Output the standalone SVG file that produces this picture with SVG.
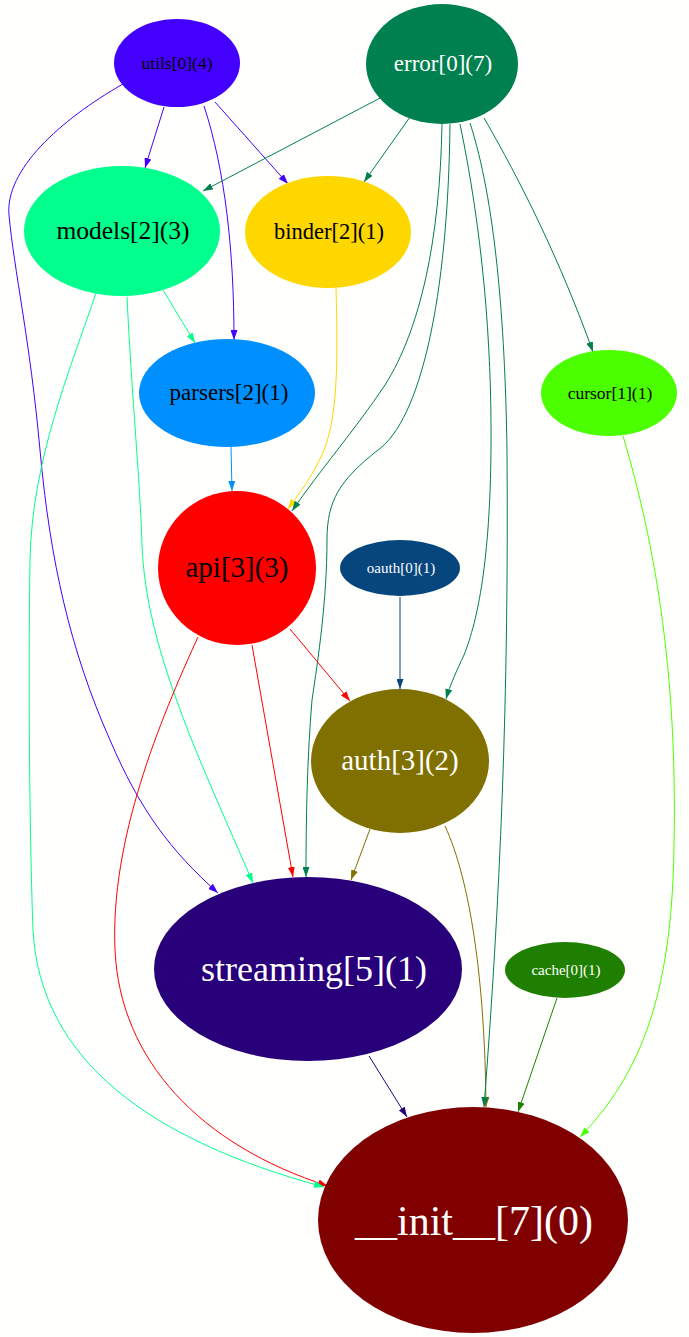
<svg xmlns="http://www.w3.org/2000/svg" width="689" height="1337" viewBox="0 0 689 1337">
<style>
text{font-family:"Liberation Serif","Times New Roman",serif;text-anchor:middle}
.e path{fill:none;stroke-width:1}
.w{fill:#ffffff}.k{fill:#000000}
</style>
<defs>
<marker id="a-utils" viewBox="0 0 10 7" refX="10" refY="3.5" markerWidth="10" markerHeight="7" markerUnits="userSpaceOnUse" orient="auto"><path d="M0,0L10,3.5L0,7z" fill="#4400ff"/></marker>
<marker id="a-error" viewBox="0 0 10 7" refX="10" refY="3.5" markerWidth="10" markerHeight="7" markerUnits="userSpaceOnUse" orient="auto"><path d="M0,0L10,3.5L0,7z" fill="#00804f"/></marker>
<marker id="a-models" viewBox="0 0 10 7" refX="10" refY="3.5" markerWidth="10" markerHeight="7" markerUnits="userSpaceOnUse" orient="auto"><path d="M0,0L10,3.5L0,7z" fill="#00ff8c"/></marker>
<marker id="a-binder" viewBox="0 0 10 7" refX="10" refY="3.5" markerWidth="10" markerHeight="7" markerUnits="userSpaceOnUse" orient="auto"><path d="M0,0L10,3.5L0,7z" fill="#ffd700"/></marker>
<marker id="a-parsers" viewBox="0 0 10 7" refX="10" refY="3.5" markerWidth="10" markerHeight="7" markerUnits="userSpaceOnUse" orient="auto"><path d="M0,0L10,3.5L0,7z" fill="#008fff"/></marker>
<marker id="a-cursor" viewBox="0 0 10 7" refX="10" refY="3.5" markerWidth="10" markerHeight="7" markerUnits="userSpaceOnUse" orient="auto"><path d="M0,0L10,3.5L0,7z" fill="#4cff00"/></marker>
<marker id="a-api" viewBox="0 0 10 7" refX="10" refY="3.5" markerWidth="10" markerHeight="7" markerUnits="userSpaceOnUse" orient="auto"><path d="M0,0L10,3.5L0,7z" fill="#ff0000"/></marker>
<marker id="a-oauth" viewBox="0 0 10 7" refX="10" refY="3.5" markerWidth="10" markerHeight="7" markerUnits="userSpaceOnUse" orient="auto"><path d="M0,0L10,3.5L0,7z" fill="#07467d"/></marker>
<marker id="a-auth" viewBox="0 0 10 7" refX="10" refY="3.5" markerWidth="10" markerHeight="7" markerUnits="userSpaceOnUse" orient="auto"><path d="M0,0L10,3.5L0,7z" fill="#7f7000"/></marker>
<marker id="a-streaming" viewBox="0 0 10 7" refX="10" refY="3.5" markerWidth="10" markerHeight="7" markerUnits="userSpaceOnUse" orient="auto"><path d="M0,0L10,3.5L0,7z" fill="#27007a"/></marker>
<marker id="a-cache" viewBox="0 0 10 7" refX="10" refY="3.5" markerWidth="10" markerHeight="7" markerUnits="userSpaceOnUse" orient="auto"><path d="M0,0L10,3.5L0,7z" fill="#1f7f00"/></marker>
</defs>
<rect width="689" height="1337" fill="#fffffd"/>
<g id="edges" class="e">
<path d="M164,107 L145,168" stroke="#4400ff" marker-end="url(#a-utils)"/>
<path d="M215,102 L288,184" stroke="#4400ff" marker-end="url(#a-utils)"/>
<path d="M204,106 C225,170 234,250 234,340" stroke="#4400ff" marker-end="url(#a-utils)"/>
<path d="M123,84 C60,120 5,170 9,215 C14,270 30,340 40,450 C50,560 70,650 110,740 C140,810 170,850 218,893" stroke="#4400ff" marker-end="url(#a-utils)"/>
<path d="M382,97 L203,191" stroke="#00804f" marker-end="url(#a-error)"/>
<path d="M410,117 L364,182" stroke="#00804f" marker-end="url(#a-error)"/>
<path d="M336,288 C338,360 338,420 322,455 C310,480 300,492 288,509" stroke="#ffd700" marker-end="url(#a-binder)"/>
<path d="M442,124 C440,240 420,330 385,385 C355,430 320,470 292,511" stroke="#00804f" marker-end="url(#a-error)"/>
<path d="M450,124 C448,300 420,420 378,450 C340,480 327,500 327,540 C327,600 318,660 312,700 C307,760 306,820 306,877" stroke="#00804f" marker-end="url(#a-error)"/>
<path d="M460,124 C482,230 492,340 491,450 C490,560 478,620 464,655 C457,670 450,685 446,699" stroke="#00804f" marker-end="url(#a-error)"/>
<path d="M445,826 C470,880 485,980 486,1107" stroke="#7f7000" marker-end="url(#a-auth)"/>
<path d="M470,123 C495,200 505,320 507,450 C509,700 500,900 484,1107" stroke="#00804f" marker-end="url(#a-error)"/>
<path d="M484,118 C520,180 560,260 593,352" stroke="#00804f" marker-end="url(#a-error)"/>
<path d="M163,290 L195,343" stroke="#00ff8c" marker-end="url(#a-models)"/>
<path d="M127,297 C132,400 140,480 142,545 C146,650 200,760 253,883" stroke="#00ff8c" marker-end="url(#a-models)"/>
<path d="M198,637 C160,720 110,840 115,950 C120,1060 200,1145 328,1186" stroke="#ff0000" marker-end="url(#a-api)"/>
<path d="M96,293 C70,370 32,460 30,560 C28,700 30,850 33,930 C40,1060 150,1140 324,1187" stroke="#00ff8c" marker-end="url(#a-models)"/>
<path d="M231,447 L232,491" stroke="#008fff" marker-end="url(#a-parsers)"/>
<path d="M623,436 C660,560 680,700 673,880 C667,1000 640,1075 580,1137" stroke="#4cff00" marker-end="url(#a-cursor)"/>
<path d="M290,629 L350,701" stroke="#ff0000" marker-end="url(#a-api)"/>
<path d="M252,645 L293,877" stroke="#ff0000" marker-end="url(#a-api)"/>
<path d="M400,597 L400,689" stroke="#07467d" marker-end="url(#a-oauth)"/>
<path d="M370,829 L351,880" stroke="#7f7000" marker-end="url(#a-auth)"/>
<path d="M369,1056 L407,1117" stroke="#27007a" marker-end="url(#a-streaming)"/>
<path d="M557,998 L518,1112" stroke="#1f7f00" marker-end="url(#a-cache)"/>
</g>
<g id="utils"><ellipse cx="177" cy="63" rx="63" ry="44" fill="#4400ff"/><text x="177" y="68.5" font-size="17.5" class="k">utils[0](4)</text></g>
<g id="error"><ellipse cx="442" cy="64" rx="76" ry="60" fill="#00804f"/><text x="443" y="71" font-size="23" class="w">error[0](7)</text></g>
<g id="models"><ellipse cx="122" cy="231" rx="98" ry="65" fill="#00ff8c"/><text x="123" y="239" font-size="25.5" class="k">models[2](3)</text></g>
<g id="binder"><ellipse cx="328" cy="232" rx="83" ry="56" fill="#ffd700"/><text x="329" y="239" font-size="22.5" class="k">binder[2](1)</text></g>
<g id="parsers"><ellipse cx="227" cy="393" rx="88" ry="54" fill="#008fff"/><text x="229" y="400" font-size="23" class="k">parsers[2](1)</text></g>
<g id="cursor"><ellipse cx="609" cy="393" rx="68" ry="43" fill="#4cff00"/><text x="610" y="399" font-size="17.5" class="k">cursor[1](1)</text></g>
<g id="api"><ellipse cx="237" cy="568" rx="79" ry="77" fill="#ff0000"/><text x="237" y="577" font-size="29" class="k">api[3](3)</text></g>
<g id="oauth"><ellipse cx="400" cy="568" rx="60" ry="28" fill="#07467d"/><text x="401" y="573" font-size="15" class="w">oauth[0](1)</text></g>
<g id="auth"><ellipse cx="400" cy="761" rx="89" ry="72" fill="#7f7000"/><text x="400" y="770" font-size="29" class="w">auth[3](2)</text></g>
<g id="streaming"><ellipse cx="308" cy="969" rx="154" ry="92" fill="#27007a"/><text x="314" y="981" font-size="36" class="w">streaming[5](1)</text></g>
<g id="cache"><ellipse cx="565" cy="970" rx="60" ry="28" fill="#1f7f00"/><text x="566" y="975" font-size="15" class="w">cache[0](1)</text></g>
<g id="init"><ellipse cx="473" cy="1220" rx="155" ry="113" fill="#800000"/><text x="474" y="1235" font-size="42" class="w">__init__[7](0)</text></g>
</svg>
